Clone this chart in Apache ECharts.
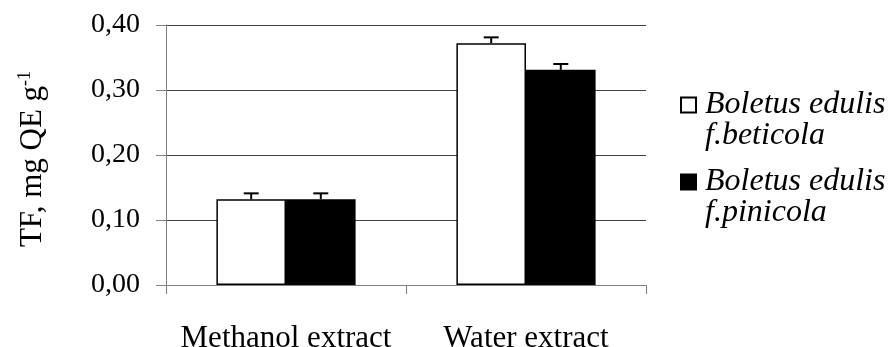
<!DOCTYPE html>
<html>
<head>
<meta charset="utf-8">
<script src="https://cdn.jsdelivr.net/npm/echarts@6/dist/echarts.min.js"></script>
<style>html,body{margin:0;padding:0;background:#fff}#c{width:891px;height:347px}</style>
</head>
<body>
<div id="c"></div>
<script>
const categories = ['Methanol extract', 'Water extract'];
const seriesNames = ['Boletus edulis f.beticola', 'Boletus edulis f.pinicola'];
const beticola = [0.132, 0.372];
const pinicola = [0.132, 0.331];
const beticolaErr = [0.009, 0.009];
const pinicolaErr = [0.009, 0.009];
const yTickLabels = ['0,00', '0,10', '0,20', '0,30', '0,40'];

const FONT = '"Liberation Serif", "Times New Roman", serif';
const GAP = 0.42;
const values = [beticola, pinicola];
const errs = [beticolaErr, pinicolaErr];

function errRender(sIdx, n) {
  return function (params, api) {
    const c = api.value(0), v = api.value(1), e = api.value(2);
    const bw = api.size([1, 0])[0];
    const groupW = bw * (1 - GAP);
    const barW = groupW / n;
    const base = api.coord([c, v]);
    const top = api.coord([c, v + e]);
    const x = base[0] - groupW / 2 + barW * (sIdx + 0.5);
    const style = { stroke: '#000', lineWidth: 2 };
    return {
      type: 'group',
      children: [
        { type: 'line', shape: { x1: x, y1: base[1], x2: x, y2: top[1] }, style },
        { type: 'line', shape: { x1: x - 7.5, y1: top[1], x2: x + 7.5, y2: top[1] }, style }
      ]
    };
  };
}

const series = [];
values.forEach((vals, i) => {
  series.push({
    name: seriesNames[i],
    type: 'bar',
    data: vals,
    barGap: '0%',
    barCategoryGap: (GAP * 100) + '%',
    itemStyle: { color: i === 0 ? '#fff' : '#000', borderColor: '#000', borderWidth: 1.5 }
  });
});
values.forEach((vals, i) => {
  series.push({
    type: 'custom',
    renderItem: errRender(i, values.length),
    data: vals.map((v, k) => [k, v, errs[i][k]]),
    z: 5
  });
});

const chart = echarts.init(document.getElementById('c'));
chart.setOption({
  animation: false,
  backgroundColor: '#fff',
  textStyle: { fontFamily: FONT, color: '#000' },
  grid: { left: 166, top: 25, right: 245, bottom: 62, containLabel: false, outerBoundsMode: 'none' },
  legend: {
    data: seriesNames,
    orient: 'vertical',
    left: 675,
    top: 64,
    icon: 'rect',
    itemWidth: 15,
    itemHeight: 15,
    itemGap: -6,
    selectedMode: false,
    formatter: n => '{e| }\n{a|' + n.replace(' f.', '}\n{a|f.') + '}',
    textStyle: {
      fontFamily: FONT, fontStyle: 'italic', fontSize: 32, color: '#000',
      rich: {
        e: { fontSize: 10, lineHeight: 31 },
        a: { fontFamily: FONT, fontStyle: 'italic', fontSize: 32, color: '#000', lineHeight: 31, padding: [0, 0, 0, 4] }
      }
    }
  },
  xAxis: {
    type: 'category',
    data: categories,
    axisLine: { lineStyle: { color: '#808080', width: 1 } },
    axisTick: { show: true, length: 9, lineStyle: { color: '#808080' } },
    axisLabel: { fontFamily: FONT, fontSize: 31, color: '#000', margin: 38, interval: 0 }
  },
  yAxis: {
    type: 'value',
    min: 0,
    max: 0.4,
    interval: 0.1,
    name: '{a|TF, mg QE g}{s|-1}',
    nameLocation: 'middle',
    nameRotate: 90,
    nameGap: 116,
    nameTextStyle: {
      rich: {
        a: { fontFamily: FONT, fontSize: 31, color: '#000', lineHeight: 34 },
        s: { fontFamily: FONT, fontSize: 18, color: '#000', verticalAlign: 'top', lineHeight: 34, padding: [0, 8, 0, 0] }
      }
    },
    axisLine: { show: true, lineStyle: { color: '#808080', width: 1 } },
    axisTick: { show: true, length: 10, lineStyle: { color: '#808080' } },
    splitLine: { show: true, lineStyle: { color: '#444', width: 1 } },
    axisLabel: {
      fontFamily: FONT, fontSize: 28, color: '#000', margin: 26,
      formatter: v => yTickLabels[Math.round(v / 0.1)]
    }
  },
  series
});
</script>
</body>
</html>
